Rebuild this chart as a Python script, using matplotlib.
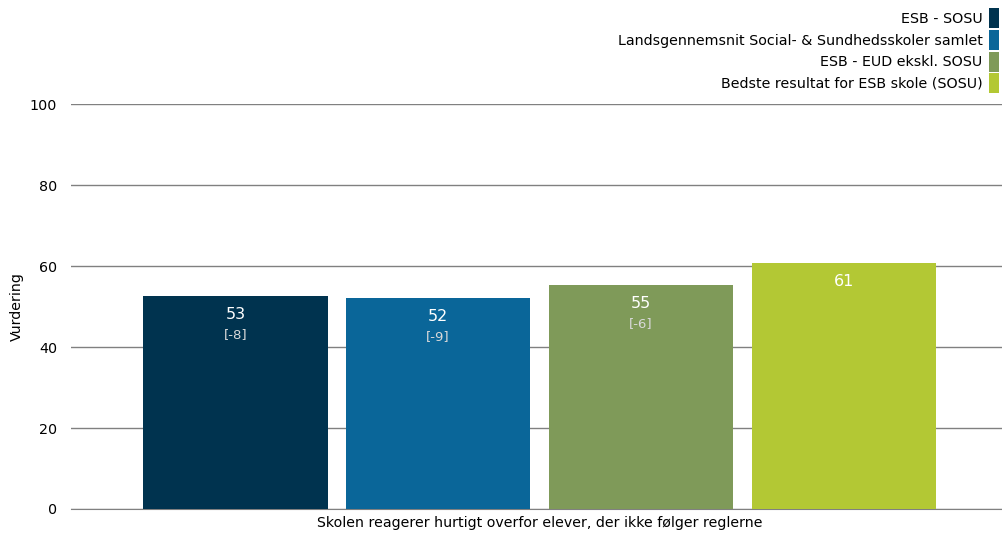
import matplotlib.pyplot as plt
from matplotlib.patches import Patch

# data
serier = ['ESB - SOSU',
          'Landsgennemsnit Social- & Sundhedsskoler samlet',
          'ESB - EUD ekskl. SOSU',
          'Bedste resultat for ESB skole (SOSU)']
vaerdier = [52.6, 52.1, 55.3, 60.7]
forskel = ['[-8]', '[-9]', '[-6]', '']
farver = ['#00334f', '#0a6699', '#7f9a59', '#b3c834']
kategori = 'Skolen reagerer hurtigt overfor elever, der ikke følger reglerne'

plt.rcParams['font.family'] = 'DejaVu Sans'

fig = plt.figure(figsize=(10.02, 5.35), dpi=100)
ax = fig.add_axes([0.0709, 0.0486, 0.9291, 0.757])

bredde = 0.91
for i, (navn, v, d, c) in enumerate(zip(serier, vaerdier, forskel, farver)):
    x = i - 1.5
    ax.bar(x, v, width=bredde, color=c, label=navn, zorder=3)
    ax.annotate(f'{v:.0f}', xy=(x, v), xytext=(0, -13), textcoords='offset points',
                ha='center', va='center', color='white', fontsize=11.5, zorder=4)
    if d:
        ax.annotate(d, xy=(x, v), xytext=(0, -27.5), textcoords='offset points',
                    ha='center', va='center', color='#d9d9d9', fontsize=9.5, zorder=4)

ax.set_xlim(-2.31, 2.28)
ax.set_ylim(0, 100)
ax.set_yticks([0, 20, 40, 60, 80, 100])
ax.set_xticks([0])
ax.set_xticklabels([kategori])
ax.tick_params(axis='y', length=0, pad=10, labelsize=10.3)
ax.tick_params(axis='x', length=0, pad=5, labelsize=10.2)
ax.yaxis.grid(True, color='#808080', linewidth=1, zorder=0)
for s in ['top', 'right', 'left']:
    ax.spines[s].set_visible(False)
ax.spines['bottom'].set_color('#808080')
ax.set_ylabel('Vurdering', fontsize=10.2, labelpad=4)

# legende oppe i højre hjørne, farveboks til højre for teksten
handles = [Patch(facecolor=c, edgecolor='none') for c in farver]
fig.legend(handles, serier, loc='upper right', bbox_to_anchor=(1.0, 0.99),
           frameon=False, markerfirst=False, fontsize=10.3,
           handlelength=0.72, handleheight=1.8, handletextpad=0.45,
           labelspacing=0.1, borderpad=0.1, borderaxespad=0.1)

fig.savefig('out.png', dpi=100)
